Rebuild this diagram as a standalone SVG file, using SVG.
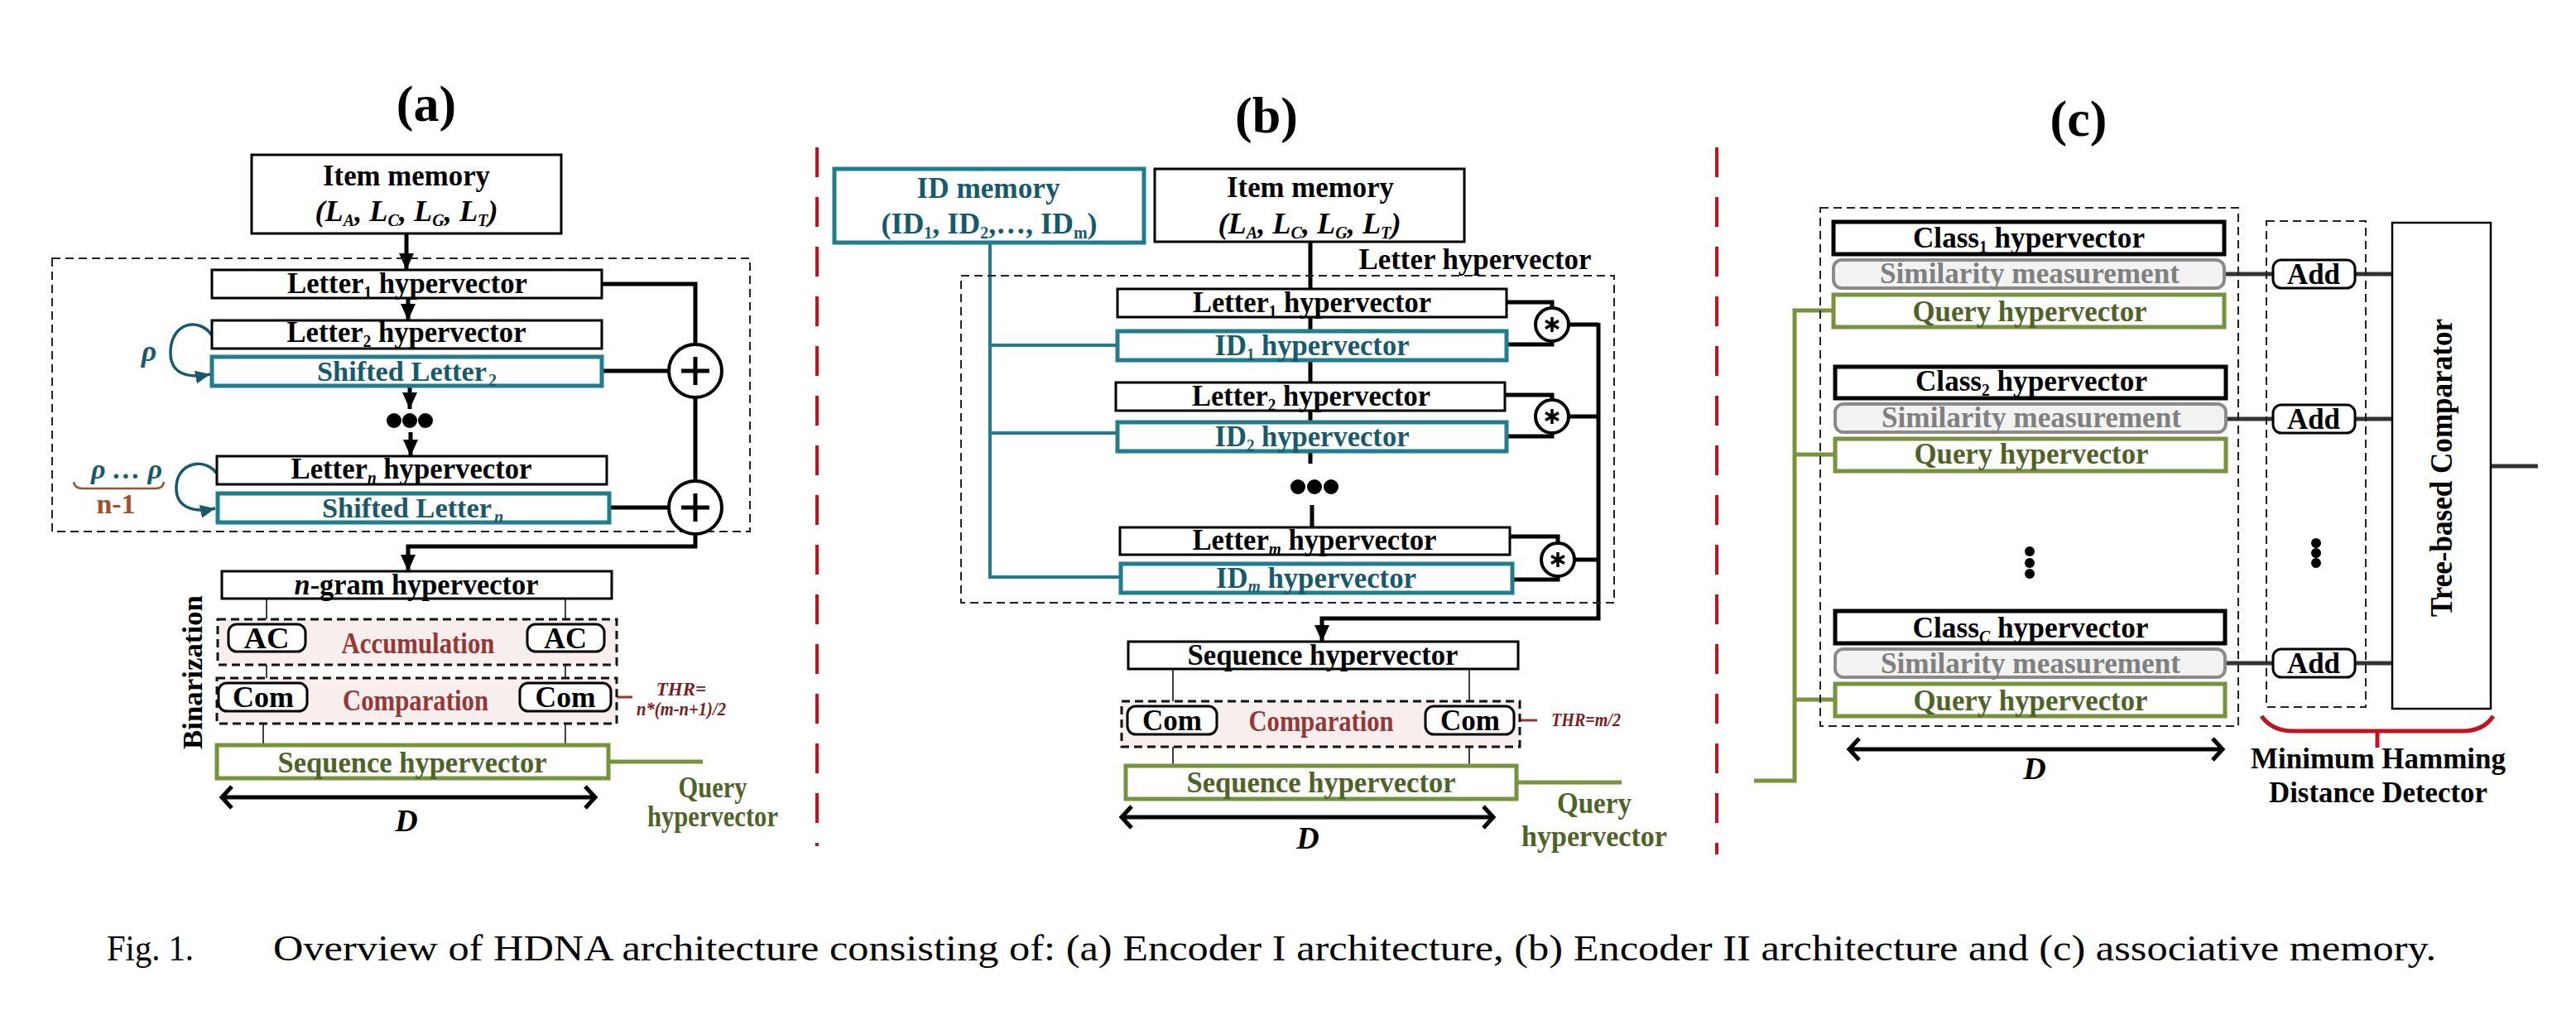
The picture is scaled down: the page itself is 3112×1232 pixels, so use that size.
<svg xmlns="http://www.w3.org/2000/svg" width="3112" height="1232" viewBox="0 0 3112 1232">
<style>
text{font-family:"Liberation Serif","Times New Roman",serif;font-weight:bold;}
text.reg{font-weight:normal;}
.c{text-anchor:middle;}
.lbl{font-size:36px;}
.k{fill:#000;}
.tl{fill:#175a6b;}
.gr{fill:#4f6228;}
.gy{fill:#808080;}
.rd{fill:#953735;}
.box{fill:#fff;stroke:#000;stroke-width:3;}
.teal{fill:#fff;stroke:#217d8e;stroke-width:5;}
.green{fill:#fff;stroke:#77933c;stroke-width:5;}
.cls{fill:#fff;stroke:#000;stroke-width:5;}
.sim{fill:#f2f2f2;stroke:#8a8a8a;stroke-width:4;}
.rbox{fill:#fff;stroke:#000;stroke-width:3;}
.dash{fill:none;stroke:#222;stroke-width:2;stroke-dasharray:10 6;}
.pdash{fill:#f8eeee;stroke:#111;stroke-width:3;stroke-dasharray:10 6;}
.bus{fill:none;stroke:#000;stroke-width:5;}
.gbus{fill:none;stroke:#77933c;stroke-width:5;}
.tbus{fill:none;stroke:#217d8e;stroke-width:4;}
.dbus{fill:none;stroke:#333;stroke-width:5;}
.thin{fill:none;stroke:#000;stroke-width:1.5;}
.sep{fill:none;stroke:#c0141e;stroke-width:4;stroke-dasharray:36 24;}
.op{fill:#fff;stroke:#000;stroke-width:4;}
.sub{font-size:20px;}
</style>
<defs>
<marker id="ah" markerUnits="userSpaceOnUse" markerWidth="20" markerHeight="18" refX="20" refY="9" orient="auto" viewBox="0 0 20 18">
<path d="M0,0 L20,9 L0,18 Z" fill="#000"/>
</marker>
<marker id="aht" markerUnits="userSpaceOnUse" markerWidth="18" markerHeight="16" refX="18" refY="8" orient="auto" viewBox="0 0 18 16">
<path d="M0,0 L18,8 L0,16 Z" fill="#175a6b"/>
</marker>
</defs>
<rect width="3112" height="1232" fill="#fff"/>

<!-- separators -->
<g id="separators">
<line class="sep" x1="987" y1="178" x2="987" y2="1022"/>
<line class="sep" x1="2074" y1="178" x2="2074" y2="1032"/>
</g>

<!-- titles -->
<g id="titles">
<text class="c" x="515" y="146" font-size="62">(a)</text>
<text class="c" x="1530" y="160" font-size="62">(b)</text>
<text class="c" x="2511" y="164" font-size="62">(c)</text>
</g>

<!-- connectors -->
<g id="connectors">
<!-- (a) -->
<line class="bus" x1="491" y1="282" x2="491" y2="326" stroke-width="4" marker-end="url(#ah)"/>
<line class="bus" x1="493" y1="360" x2="493" y2="387" stroke-width="4" marker-end="url(#ah)"/>
<line class="bus" x1="495" y1="466" x2="495" y2="494" stroke-width="4" marker-end="url(#ah)"/>
<line class="bus" x1="496" y1="522" x2="496" y2="551" stroke-width="4" marker-end="url(#ah)"/>
<polyline class="bus" points="727,343 840,343 840,416"/>
<line class="bus" x1="840" y1="480" x2="840" y2="581"/>
<line class="bus" x1="727" y1="448" x2="808" y2="448"/>
<line class="bus" x1="736" y1="613" x2="808" y2="613"/>
<polyline class="bus" points="840,645 840,660 493,660 493,690" marker-end="url(#ah)"/>
<path d="M256,405 C240,382 207,390 206,424 C205,450 224,458 254,452" fill="none" stroke="#175a6b" stroke-width="3.5" marker-end="url(#aht)"/>
<path d="M262,572 C248,552 214,558 213,588 C212,612 232,620 260,614" fill="none" stroke="#175a6b" stroke-width="3.5" marker-end="url(#aht)"/>
<path d="M89,582 Q90,590 100,590 L188,590 Q197,590 198,582" fill="none" stroke="#a0522d" stroke-width="2.5"/>
<line class="thin" x1="322" y1="723" x2="322" y2="754"/>
<line class="thin" x1="322" y1="787" x2="322" y2="825"/>
<line class="thin" x1="318" y1="859" x2="318" y2="900"/>
<line class="thin" x1="683" y1="723" x2="683" y2="754"/>
<line class="thin" x1="683" y1="787" x2="683" y2="825"/>
<line class="thin" x1="683" y1="859" x2="683" y2="900"/>
<line x1="738" y1="842" x2="764" y2="842" stroke="#953735" stroke-width="3"/>
<line class="gbus" x1="735" y1="920" x2="849" y2="920" stroke-width="7"/>
<polyline class="bus" points="280,950 268,963 280,976" stroke-width="4"/>
<polyline class="bus" points="707,950 719,963 707,976" stroke-width="4"/>
<line class="bus" x1="268" y1="963" x2="719" y2="963" stroke-width="4"/>
<!-- (b) -->
<line class="bus" x1="1583" y1="292" x2="1583" y2="560" stroke-width="4"/>
<line class="bus" x1="1585" y1="610" x2="1585" y2="637" stroke-width="4"/>
<polyline class="tbus" points="1196,293 1196,697 1354,697"/>
<line class="tbus" x1="1196" y1="417" x2="1350" y2="417"/>
<line class="tbus" x1="1196" y1="523" x2="1350" y2="523"/>
<polyline class="bus" points="1820,365 1875,365 1875,372"/>
<polyline class="bus" points="1820,416 1875,416 1875,412"/>
<polyline class="bus" points="1818,477 1875,477 1875,483"/>
<polyline class="bus" points="1820,527 1875,527 1875,523"/>
<polyline class="bus" points="1824,648 1882,648 1882,656"/>
<polyline class="bus" points="1827,700 1882,700 1882,696"/>
<line class="bus" x1="1895" y1="392" x2="1931" y2="392"/>
<line class="bus" x1="1895" y1="503" x2="1931" y2="503"/>
<line class="bus" x1="1902" y1="676" x2="1931" y2="676"/>
<polyline class="bus" points="1931,390 1931,747 1597,747 1597,775" marker-end="url(#ah)"/>
<line class="thin" x1="1417" y1="808" x2="1417" y2="853"/>
<line class="thin" x1="1775" y1="808" x2="1775" y2="853"/>
<line class="thin" x1="1417" y1="887" x2="1417" y2="925"/>
<line class="thin" x1="1775" y1="887" x2="1775" y2="925"/>
<line x1="1829" y1="870" x2="1857" y2="870" stroke="#953735" stroke-width="3"/>
<line class="gbus" x1="1832" y1="945" x2="1959" y2="945" stroke-width="7"/>
<polyline class="bus" points="1367,974 1355,987 1367,1000" stroke-width="4"/>
<polyline class="bus" points="1792,974 1804,987 1792,1000" stroke-width="4"/>
<line class="bus" x1="1355" y1="987" x2="1804" y2="987" stroke-width="4"/>
<!-- (c) -->
<polyline class="gbus" points="2215,375 2168,375 2168,943 2119,943"/>
<line class="gbus" x1="2168" y1="549" x2="2215" y2="549"/>
<line class="gbus" x1="2168" y1="845" x2="2215" y2="845"/>
<line class="dbus" x1="2687" y1="331" x2="2746" y2="331"/>
<line class="dbus" x1="2845" y1="331" x2="2891" y2="331"/>
<line class="dbus" x1="2689" y1="506" x2="2746" y2="506"/>
<line class="dbus" x1="2845" y1="506" x2="2891" y2="506"/>
<line class="dbus" x1="2689" y1="801" x2="2746" y2="801"/>
<line class="dbus" x1="2845" y1="801" x2="2891" y2="801"/>
<line class="dbus" x1="3009" y1="563" x2="3066" y2="563"/>
<polyline class="bus" points="2246,892 2234,905 2246,918" stroke-width="4"/>
<polyline class="bus" points="2673,892 2685,905 2673,918" stroke-width="4"/>
<line class="bus" x1="2234" y1="905" x2="2685" y2="905" stroke-width="4"/>
<path d="M2732,865 Q2745,883 2770,883 L2975,883 Q3000,883 3012,865 M2872,883 L2872,903" fill="none" stroke="#c0141e" stroke-width="5"/>
</g>

<!-- (a) nodes -->
<g id="a_group">
<rect class="dash" x="63" y="312" width="843" height="330"/>
</g>
<g id="a_item_memory">
<rect class="box" x="304" y="187" width="374" height="95"/>
<text class="c lbl" x="491" y="224" textLength="202" lengthAdjust="spacingAndGlyphs">Item memory</text>
<text class="c lbl" x="491" y="267" font-style="italic" textLength="221" lengthAdjust="spacingAndGlyphs">(L<tspan class="sub" dy="6">A</tspan><tspan dy="-6">, L</tspan><tspan class="sub" dy="6">C</tspan><tspan dy="-6">, L</tspan><tspan class="sub" dy="6">G</tspan><tspan dy="-6">, L</tspan><tspan class="sub" dy="6">T</tspan><tspan dy="-6">)</tspan></text>
</g>
<g id="a_letter1">
<rect class="box" x="256" y="326" width="471" height="34"/>
<text class="c lbl" x="492" y="354" textLength="290" lengthAdjust="spacingAndGlyphs">Letter<tspan class="sub" dy="6">1</tspan><tspan dy="-6"> hypervector</tspan></text>
</g>
<g id="a_letter2">
<rect class="box" x="256" y="387" width="471" height="34"/>
<text class="c lbl" x="491" y="413" textLength="289" lengthAdjust="spacingAndGlyphs">Letter<tspan class="sub" dy="6">2</tspan><tspan dy="-6"> hypervector</tspan></text>
</g>
<g id="a_shifted2">
<rect class="teal" x="256" y="431" width="471" height="35"/>
<text class="tl" x="383" y="460" font-size="34" textLength="205" lengthAdjust="spacingAndGlyphs">Shifted Letter</text>
<text class="sub tl" x="590" y="466">2</text>
</g>
<g id="a_rho1">
<text class="c tl" x="180" y="436" font-size="36" font-style="italic">ρ</text>
</g>
<g id="a_dots">
<circle cx="476" cy="508" r="9"/><circle cx="495" cy="508" r="9"/><circle cx="514" cy="508" r="9"/>
</g>
<g id="a_lettern">
<rect class="box" x="262" y="551" width="471" height="34"/>
<text class="c lbl" x="497" y="578" textLength="291" lengthAdjust="spacingAndGlyphs">Letter<tspan class="sub" dy="6" font-style="italic">n</tspan><tspan dy="-6"> hypervector</tspan></text>
</g>
<g id="a_shiftedn">
<rect class="teal" x="263" y="596" width="473" height="35"/>
<text class="tl" x="389" y="625" font-size="34" textLength="205" lengthAdjust="spacingAndGlyphs">Shifted Letter</text>
<text class="sub tl" x="597" y="631" font-style="italic">n</text>
</g>
<g id="a_rhos">
<text class="c tl" x="153" y="578" font-size="34" font-style="italic">ρ … ρ</text>
<text class="c" x="140" y="620" font-size="34" fill="#a0522d">n-1</text>
</g>
<g id="a_plus1">
<circle class="op" cx="840" cy="448" r="32"/>
<path d="M840,431 V465 M823,448 H857" stroke="#000" stroke-width="5"/>
</g>
<g id="a_plus2">
<circle class="op" cx="840" cy="613" r="32"/>
<path d="M840,596 V630 M823,613 H857" stroke="#000" stroke-width="5"/>
</g>
<g id="a_ngram">
<rect class="box" x="268" y="690" width="471" height="33"/>
<text class="c lbl" x="503" y="718" textLength="295" lengthAdjust="spacingAndGlyphs"><tspan font-style="italic">n</tspan>-gram hypervector</text>
</g>
<g id="a_accumulation">
<rect class="pdash" x="263" y="748" width="482" height="55"/>
<text class="c lbl rd" x="505" y="789" textLength="185" lengthAdjust="spacingAndGlyphs">Accumulation</text>
</g>
<g id="a_ac1">
<rect class="rbox" x="276" y="754" width="93" height="33" rx="10"/>
<text class="c lbl" x="322" y="783" textLength="55" lengthAdjust="spacingAndGlyphs">AC</text>
</g>
<g id="a_ac2">
<rect class="rbox" x="637" y="754" width="93" height="33" rx="10"/>
<text class="c lbl" x="683" y="783" textLength="52" lengthAdjust="spacingAndGlyphs">AC</text>
</g>
<g id="a_comparation">
<rect class="pdash" x="262" y="819" width="483" height="55"/>
<text class="c lbl rd" x="502" y="858" textLength="176" lengthAdjust="spacingAndGlyphs">Comparation</text>
</g>
<g id="a_com1">
<rect class="rbox" x="264" y="825" width="107" height="34" rx="10"/>
<text class="c lbl" x="318" y="854" textLength="74" lengthAdjust="spacingAndGlyphs">Com</text>
</g>
<g id="a_com2">
<rect class="rbox" x="628" y="825" width="110" height="34" rx="10"/>
<text class="c lbl" x="683" y="854" textLength="73" lengthAdjust="spacingAndGlyphs">Com</text>
</g>
<g id="a_thr">
<text class="c" x="823" y="840" font-size="23" font-style="italic" fill="#7b1c1c">THR=</text>
<text class="c" x="823" y="864" font-size="23" font-style="italic" fill="#7b1c1c" textLength="108" lengthAdjust="spacingAndGlyphs">n*(m-n+1)/2</text>
</g>
<g id="a_binarization">
<text class="c" transform="translate(244,812) rotate(-90)" font-size="34" textLength="186" lengthAdjust="spacingAndGlyphs">Binarization</text>
</g>
<g id="a_sequence">
<rect class="green" x="262" y="900" width="473" height="40"/>
<text class="c lbl gr" x="498" y="933" textLength="325" lengthAdjust="spacingAndGlyphs">Sequence hypervector</text>
</g>
<g id="a_query_label">
<text class="c lbl gr" x="861" y="963" textLength="83" lengthAdjust="spacingAndGlyphs">Query</text>
<text class="c lbl gr" x="861" y="998" textLength="158" lengthAdjust="spacingAndGlyphs">hypervector</text>
</g>
<g id="a_D">
<text class="c" x="491" y="1004" font-size="38" font-style="italic">D</text>
</g>

<!-- (b) nodes -->
<g id="b_group">
<rect class="dash" x="1161" y="333" width="789" height="395"/>
<text class="c lbl" x="1782" y="325" textLength="281" lengthAdjust="spacingAndGlyphs">Letter hypervector</text>
</g>
<g id="b_id_memory">
<rect class="teal" x="1008" y="204" width="374" height="89"/>
<text class="c lbl tl" x="1194" y="239" textLength="173" lengthAdjust="spacingAndGlyphs">ID memory</text>
<text class="c lbl tl" x="1195" y="282" textLength="261" lengthAdjust="spacingAndGlyphs">(ID<tspan class="sub" dy="6">1</tspan><tspan dy="-6">, ID</tspan><tspan class="sub" dy="6">2</tspan><tspan dy="-6">,…, ID</tspan><tspan class="sub" dy="6">m</tspan><tspan dy="-6">)</tspan></text>
</g>
<g id="b_item_memory">
<rect class="box" x="1395" y="204" width="374" height="88"/>
<text class="c lbl" x="1583" y="238" textLength="202" lengthAdjust="spacingAndGlyphs">Item memory</text>
<text class="c lbl" x="1582" y="282" font-style="italic" textLength="221" lengthAdjust="spacingAndGlyphs">(L<tspan class="sub" dy="6">A</tspan><tspan dy="-6">, L</tspan><tspan class="sub" dy="6">C</tspan><tspan dy="-6">, L</tspan><tspan class="sub" dy="6">G</tspan><tspan dy="-6">, L</tspan><tspan class="sub" dy="6">T</tspan><tspan dy="-6">)</tspan></text>
</g>
<g id="b_letter1">
<rect class="box" x="1350" y="349" width="470" height="34"/>
<text class="c lbl" x="1585" y="377" textLength="288" lengthAdjust="spacingAndGlyphs">Letter<tspan class="sub" dy="6">1</tspan><tspan dy="-6"> hypervector</tspan></text>
</g>
<g id="b_id1">
<rect class="teal" x="1350" y="400" width="470" height="35"/>
<text class="c lbl tl" x="1585" y="429" textLength="235" lengthAdjust="spacingAndGlyphs">ID<tspan class="sub" dy="6">1</tspan><tspan dy="-6"> hypervector</tspan></text>
</g>
<g id="b_letter2">
<rect class="box" x="1348" y="462" width="470" height="34"/>
<text class="c lbl" x="1584" y="490" textLength="288" lengthAdjust="spacingAndGlyphs">Letter<tspan class="sub" dy="6">2</tspan><tspan dy="-6"> hypervector</tspan></text>
</g>
<g id="b_id2">
<rect class="teal" x="1350" y="510" width="470" height="35"/>
<text class="c lbl tl" x="1585" y="539" textLength="235" lengthAdjust="spacingAndGlyphs">ID<tspan class="sub" dy="6">2</tspan><tspan dy="-6"> hypervector</tspan></text>
</g>
<g id="b_dots">
<circle cx="1568" cy="588" r="9"/><circle cx="1588" cy="588" r="9"/><circle cx="1608" cy="588" r="9"/>
</g>
<g id="b_letterm">
<rect class="box" x="1353" y="637" width="471" height="33"/>
<text class="c lbl" x="1588" y="664" textLength="295" lengthAdjust="spacingAndGlyphs">Letter<tspan class="sub" dy="6" font-style="italic">m</tspan><tspan dy="-6"> hypervector</tspan></text>
</g>
<g id="b_idm">
<rect class="teal" x="1354" y="681" width="473" height="35"/>
<text class="c lbl tl" x="1590" y="710" textLength="242" lengthAdjust="spacingAndGlyphs">ID<tspan class="sub" dy="5" font-style="italic">m</tspan><tspan dy="-5"> hypervector</tspan></text>
</g>
<g id="b_mul1">
<circle class="op" cx="1875" cy="392" r="20" stroke-width="3.5"/>
<path d="M1875,383 V401 M1867,387.5 L1883,396.5 M1867,396.5 L1883,387.5" stroke="#000" stroke-width="3.5"/>
</g>
<g id="b_mul2">
<circle class="op" cx="1875" cy="503" r="20" stroke-width="3.5"/>
<path d="M1875,494 V512 M1867,498.5 L1883,507.5 M1867,507.5 L1883,498.5" stroke="#000" stroke-width="3.5"/>
</g>
<g id="b_mul3">
<circle class="op" cx="1882" cy="676" r="20" stroke-width="3.5"/>
<path d="M1882,667 V685 M1874,671.5 L1890,680.5 M1874,680.5 L1890,671.5" stroke="#000" stroke-width="3.5"/>
</g>
<g id="b_seq">
<rect class="box" x="1363" y="775" width="471" height="33"/>
<text class="c lbl" x="1598" y="803" textLength="327" lengthAdjust="spacingAndGlyphs">Sequence hypervector</text>
</g>
<g id="b_comparation">
<rect class="pdash" x="1355" y="847" width="481" height="55"/>
<text class="c lbl rd" x="1596" y="883" textLength="175" lengthAdjust="spacingAndGlyphs">Comparation</text>
</g>
<g id="b_com1">
<rect class="rbox" x="1362" y="853" width="108" height="34" rx="10"/>
<text class="c lbl" x="1416" y="882" textLength="72" lengthAdjust="spacingAndGlyphs">Com</text>
</g>
<g id="b_com2">
<rect class="rbox" x="1722" y="853" width="107" height="34" rx="10"/>
<text class="c lbl" x="1776" y="882" textLength="72" lengthAdjust="spacingAndGlyphs">Com</text>
</g>
<g id="b_thr">
<text class="c" x="1916" y="877" font-size="23" font-style="italic" fill="#7b1c1c" textLength="84" lengthAdjust="spacingAndGlyphs">THR=m/2</text>
</g>
<g id="b_seq_green">
<rect class="green" x="1360" y="925" width="472" height="40"/>
<text class="c lbl gr" x="1596" y="957" textLength="325" lengthAdjust="spacingAndGlyphs">Sequence hypervector</text>
</g>
<g id="b_query_label">
<text class="c lbl gr" x="1926" y="982" textLength="90" lengthAdjust="spacingAndGlyphs">Query</text>
<text class="c lbl gr" x="1926" y="1022" textLength="176" lengthAdjust="spacingAndGlyphs">hypervector</text>
</g>
<g id="b_D">
<text class="c" x="1580" y="1025" font-size="38" font-style="italic">D</text>
</g>

<!-- (c) nodes -->
<g id="c_group">
<rect class="dash" x="2199" y="251" width="505" height="626"/>
</g>
<g id="c_class1">
<rect class="cls" x="2215" y="268" width="472" height="39"/>
<text class="c lbl" x="2451" y="299" textLength="280" lengthAdjust="spacingAndGlyphs">Class<tspan class="sub" dy="6">1</tspan><tspan dy="-6"> hypervector</tspan></text>
</g>
<g id="c_sim1">
<rect class="sim" x="2215" y="314" width="472" height="34" rx="10"/>
<text class="c lbl gy" x="2452" y="342" textLength="362" lengthAdjust="spacingAndGlyphs">Similarity measurement</text>
</g>
<g id="c_query1">
<rect class="green" x="2215" y="356" width="472" height="39"/>
<text class="c lbl gr" x="2452" y="388" textLength="283" lengthAdjust="spacingAndGlyphs">Query hypervector</text>
</g>
<g id="c_class2">
<rect class="cls" x="2217" y="443" width="472" height="38"/>
<text class="c lbl" x="2454" y="472" textLength="280" lengthAdjust="spacingAndGlyphs">Class<tspan class="sub" dy="6">2</tspan><tspan dy="-6"> hypervector</tspan></text>
</g>
<g id="c_sim2">
<rect class="sim" x="2217" y="488" width="472" height="34" rx="10"/>
<text class="c lbl gy" x="2454" y="516" textLength="362" lengthAdjust="spacingAndGlyphs">Similarity measurement</text>
</g>
<g id="c_query2">
<rect class="green" x="2217" y="530" width="472" height="39"/>
<text class="c lbl gr" x="2454" y="560" textLength="283" lengthAdjust="spacingAndGlyphs">Query hypervector</text>
</g>
<g id="c_dots">
<circle cx="2452" cy="666" r="6"/><circle cx="2452" cy="680" r="6"/><circle cx="2452" cy="693" r="6"/>
</g>
<g id="c_classC">
<rect class="cls" x="2217" y="738" width="471" height="39"/>
<text class="c lbl" x="2453" y="770" textLength="285" lengthAdjust="spacingAndGlyphs">Class<tspan class="sub" dy="6" font-style="italic">C</tspan><tspan dy="-6"> hypervector</tspan></text>
</g>
<g id="c_simC">
<rect class="sim" x="2217" y="784" width="471" height="34" rx="10"/>
<text class="c lbl gy" x="2453" y="813" textLength="362" lengthAdjust="spacingAndGlyphs">Similarity measurement</text>
</g>
<g id="c_queryC">
<rect class="green" x="2217" y="826" width="471" height="39"/>
<text class="c lbl gr" x="2453" y="858" textLength="283" lengthAdjust="spacingAndGlyphs">Query hypervector</text>
</g>
<g id="c_D">
<text class="c" x="2458" y="941" font-size="38" font-style="italic">D</text>
</g>
<g id="c_add_group">
<rect class="dash" x="2738" y="267" width="120" height="587" stroke-width="2.5"/>
</g>
<g id="c_add1">
<rect class="rbox" x="2746" y="314" width="99" height="34" rx="10"/>
<text class="c lbl" x="2795" y="343" textLength="64" lengthAdjust="spacingAndGlyphs">Add</text>
</g>
<g id="c_add2">
<rect class="rbox" x="2746" y="489" width="99" height="34" rx="10"/>
<text class="c lbl" x="2795" y="518" textLength="64" lengthAdjust="spacingAndGlyphs">Add</text>
</g>
<g id="c_add_dots">
<circle cx="2798" cy="656" r="6"/><circle cx="2798" cy="668" r="6"/><circle cx="2798" cy="680" r="6"/>
</g>
<g id="c_addC">
<rect class="rbox" x="2746" y="784" width="99" height="34" rx="10"/>
<text class="c lbl" x="2795" y="813" textLength="64" lengthAdjust="spacingAndGlyphs">Add</text>
</g>
<g id="c_comparator">
<rect x="2890" y="269" width="119" height="587" fill="#fff" stroke="#000" stroke-width="2.5"/>
<text class="c" transform="translate(2962,565) rotate(-90)" font-size="38" textLength="360" lengthAdjust="spacingAndGlyphs">Tree-based Comparator</text>
</g>
<g id="c_mhdd_label">
<text class="c lbl" x="2873" y="928" textLength="308" lengthAdjust="spacingAndGlyphs">Minimum Hamming</text>
<text class="c lbl" x="2873" y="969" textLength="264" lengthAdjust="spacingAndGlyphs">Distance Detector</text>
</g>

<!-- caption -->
<g id="caption">
<text class="reg" x="129" y="1160" font-size="44" textLength="105" lengthAdjust="spacingAndGlyphs">Fig. 1.</text>
<text class="reg" x="330" y="1160" font-size="44" textLength="2613" lengthAdjust="spacingAndGlyphs">Overview of HDNA architecture consisting of: (a) Encoder I architecture, (b) Encoder II architecture and (c) associative memory.</text>
</g>
</svg>
